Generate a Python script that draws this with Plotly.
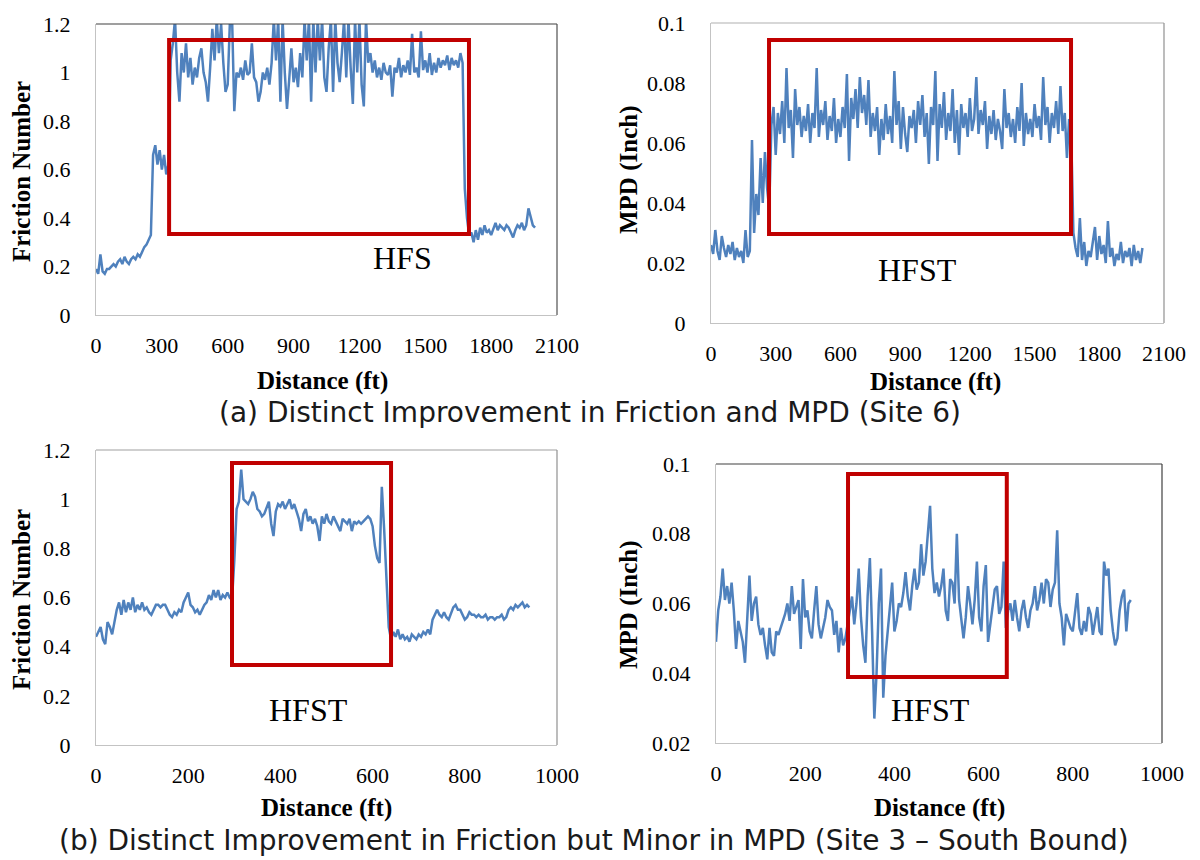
import plotly.graph_objects as go

# ---------------- data ----------------
# (a) Site 6 - friction number, every 10 ft from 0 to 2000 ft
friction_site6 = [
    0.19, 0.17, 0.25, 0.18, 0.17, 0.19, 0.19, 0.20, 0.21, 0.20,
    0.22, 0.23, 0.21, 0.24, 0.22, 0.21, 0.23, 0.24, 0.23, 0.25,
    0.24, 0.26, 0.28, 0.29, 0.31, 0.33, 0.66, 0.70, 0.62, 0.68,
    0.60, 0.66, 0.58, 0.62, 1.05, 1.12, 1.22, 1.00, 0.88, 1.08,
    1.00, 1.12, 0.98, 1.06, 0.95, 1.02, 0.98, 1.06, 1.10, 1.00,
    0.96, 0.88, 1.02, 1.18, 1.05, 1.22, 1.08, 1.20, 1.04, 0.92,
    0.95, 1.21, 1.22, 0.84, 1.00, 0.98, 1.02, 0.97, 1.05, 0.99,
    1.00, 1.12, 0.98, 0.96, 0.88, 0.92, 1.00, 0.97, 1.02, 0.95,
    1.04, 1.22, 1.05, 1.22, 0.88, 1.22, 1.00, 0.85, 0.97, 1.10,
    0.96, 1.02, 0.94, 1.08, 0.98, 1.22, 1.05, 1.22, 0.88, 1.22,
    1.00, 1.22, 1.05, 1.22, 0.98, 0.92, 1.10, 1.22, 0.92, 1.22,
    1.04, 0.96, 1.08, 1.22, 0.98, 1.22, 1.02, 0.87, 1.22, 1.00,
    1.22, 0.95, 0.86, 1.22, 1.04, 1.08, 1.00, 1.05, 0.98, 1.02,
    0.97, 1.04, 1.00, 0.99, 1.03, 0.90, 1.02, 1.00, 1.06, 0.98,
    1.03, 1.00, 1.05, 0.99, 1.16, 1.00, 1.02, 0.98, 1.17, 1.01,
    1.05, 1.00, 1.08, 0.99, 1.04, 1.00, 1.06, 1.02, 1.05, 1.03,
    1.07, 1.01, 1.06, 1.03, 1.05, 1.02, 1.08, 1.04, 0.52, 0.40,
    0.33, 0.34, 0.30, 0.35, 0.31, 0.36, 0.33, 0.37, 0.34, 0.35,
    0.33, 0.36, 0.38, 0.35, 0.37, 0.36, 0.35, 0.37, 0.36, 0.34,
    0.32, 0.35, 0.37, 0.36, 0.38, 0.35, 0.37, 0.44, 0.40, 0.37,
    0.36,
]
distance_site6_friction = [10 * i for i in range(len(friction_site6))]

# (a) Site 6 - MPD (inch), every 10 ft from 0 to 2000 ft
mpd_site6 = [
    0.026, 0.023, 0.031, 0.024, 0.021, 0.029, 0.025, 0.022, 0.026, 0.023,
    0.027, 0.021, 0.025, 0.022, 0.024, 0.020, 0.031, 0.022, 0.024, 0.061,
    0.030, 0.043, 0.036, 0.055, 0.040, 0.057, 0.045, 0.038, 0.066, 0.072,
    0.056, 0.070, 0.063, 0.074, 0.060, 0.085, 0.065, 0.071, 0.055, 0.078,
    0.066, 0.072, 0.062, 0.069, 0.064, 0.073, 0.060, 0.070, 0.065, 0.085,
    0.062, 0.071, 0.066, 0.074, 0.061, 0.069, 0.064, 0.075, 0.060, 0.068,
    0.062, 0.072, 0.065, 0.083, 0.054, 0.075, 0.068, 0.078, 0.065, 0.082,
    0.070, 0.076, 0.066, 0.081, 0.062, 0.070, 0.064, 0.072, 0.056, 0.068,
    0.061, 0.073, 0.063, 0.069, 0.060, 0.084, 0.066, 0.074, 0.058, 0.072,
    0.063, 0.057, 0.069, 0.065, 0.071, 0.060, 0.074, 0.066, 0.076, 0.062,
    0.070, 0.053, 0.072, 0.066, 0.084, 0.054, 0.073, 0.065, 0.077, 0.061,
    0.070, 0.064, 0.078, 0.060, 0.071, 0.056, 0.073, 0.065, 0.070, 0.062,
    0.075, 0.064, 0.068, 0.082, 0.063, 0.071, 0.066, 0.074, 0.058, 0.069,
    0.063, 0.071, 0.061, 0.068, 0.064, 0.058, 0.078, 0.065, 0.070, 0.062,
    0.068, 0.060, 0.072, 0.064, 0.080, 0.059, 0.070, 0.063, 0.068, 0.062,
    0.073, 0.065, 0.069, 0.061, 0.082, 0.066, 0.072, 0.060, 0.070, 0.065,
    0.074, 0.063, 0.079, 0.064, 0.070, 0.055, 0.068, 0.062, 0.030, 0.025,
    0.022, 0.035, 0.021, 0.027, 0.019, 0.024, 0.022, 0.028, 0.032, 0.021,
    0.029, 0.023, 0.026, 0.020, 0.034, 0.022, 0.025, 0.019, 0.023, 0.021,
    0.027, 0.020, 0.024, 0.022, 0.025, 0.019, 0.026, 0.021, 0.024, 0.020,
    0.025,
]
distance_site6_mpd = [10 * i for i in range(len(mpd_site6))]

# (b) Site 3 South Bound - friction number, every 5 ft from 0 to 940 ft
friction_site3 = [
    0.44, 0.46, 0.48, 0.43, 0.41, 0.50, 0.48, 0.45, 0.50, 0.55,
    0.58, 0.53, 0.59, 0.54, 0.58, 0.55, 0.60, 0.54, 0.57, 0.55,
    0.58, 0.55, 0.56, 0.54, 0.53, 0.55, 0.57, 0.57, 0.56, 0.57,
    0.57, 0.55, 0.53, 0.52, 0.54, 0.53, 0.55, 0.54, 0.58, 0.60,
    0.62, 0.57, 0.56, 0.54, 0.55, 0.53, 0.55, 0.57, 0.58, 0.61,
    0.59, 0.63, 0.60, 0.63, 0.59, 0.61, 0.60, 0.62, 0.60, 0.59,
    0.75, 0.96, 0.99, 1.12, 1.00, 0.99, 0.98, 1.00, 1.03, 1.01,
    0.96, 0.95, 0.93, 0.94, 0.97, 0.99, 0.90, 0.85, 0.95, 0.98,
    0.97, 0.99, 0.96, 0.98, 1.00, 0.96, 0.98, 0.95, 0.92, 0.87,
    0.94, 0.96, 0.91, 0.93, 0.90, 0.92, 0.89, 0.83, 0.93, 0.90,
    0.94, 0.91, 0.90, 0.93, 0.91, 0.89, 0.87, 0.92, 0.91, 0.90,
    0.92, 0.87, 0.91, 0.90, 0.91, 0.90, 0.91, 0.92, 0.93, 0.92,
    0.89, 0.81, 0.76, 0.74, 1.05, 0.88, 0.68, 0.48, 0.43, 0.46,
    0.44, 0.47, 0.43, 0.45, 0.43, 0.44, 0.42, 0.45, 0.44, 0.43,
    0.45, 0.44, 0.46, 0.45, 0.47, 0.45, 0.51, 0.53, 0.55, 0.53,
    0.52, 0.54, 0.52, 0.51, 0.54, 0.56, 0.57, 0.55, 0.55, 0.53,
    0.51, 0.52, 0.54, 0.53, 0.53, 0.52, 0.53, 0.52, 0.52, 0.53,
    0.51, 0.52, 0.52, 0.51, 0.52, 0.52, 0.53, 0.51, 0.52, 0.55,
    0.56, 0.55, 0.57, 0.56, 0.57, 0.58, 0.56, 0.57, 0.56,
]
distance_site3_friction = [5 * i for i in range(len(friction_site3))]

# (b) Site 3 South Bound - MPD (inch), every 5 ft from 0 to 930 ft
mpd_site3 = [
    0.049, 0.058, 0.062, 0.070, 0.061, 0.065, 0.060, 0.066, 0.058, 0.047,
    0.055, 0.052, 0.049, 0.043, 0.056, 0.068, 0.055, 0.060, 0.062, 0.054,
    0.051, 0.053, 0.048, 0.044, 0.053, 0.046, 0.045, 0.052, 0.051, 0.053,
    0.055, 0.057, 0.060, 0.055, 0.065, 0.057, 0.059, 0.061, 0.047, 0.067,
    0.056, 0.058, 0.052, 0.050, 0.058, 0.065, 0.054, 0.050, 0.053, 0.056,
    0.061, 0.059, 0.058, 0.051, 0.055, 0.046, 0.053, 0.048, 0.050, 0.054,
    0.058, 0.062, 0.054, 0.060, 0.070, 0.056, 0.048, 0.043, 0.062, 0.073,
    0.052, 0.027, 0.040, 0.060, 0.070, 0.033, 0.045, 0.052, 0.058, 0.066,
    0.052, 0.055, 0.060, 0.059, 0.063, 0.069, 0.062, 0.058, 0.065, 0.070,
    0.064, 0.066, 0.077, 0.068, 0.072, 0.081, 0.088, 0.070, 0.063, 0.066,
    0.062, 0.065, 0.070, 0.058, 0.055, 0.067, 0.066, 0.060, 0.080, 0.061,
    0.055, 0.050, 0.056, 0.065, 0.060, 0.054, 0.061, 0.072, 0.056, 0.052,
    0.065, 0.071, 0.049, 0.055, 0.059, 0.064, 0.065, 0.057, 0.059, 0.072,
    0.053, 0.058, 0.060, 0.055, 0.061, 0.056, 0.052, 0.058, 0.061, 0.056,
    0.053, 0.058, 0.060, 0.065, 0.058, 0.061, 0.066, 0.060, 0.067, 0.066,
    0.059, 0.064, 0.066, 0.081, 0.060, 0.056, 0.048, 0.057, 0.055, 0.053,
    0.052, 0.058, 0.063, 0.053, 0.051, 0.055, 0.052, 0.059, 0.057, 0.051,
    0.055, 0.059, 0.052, 0.051, 0.072, 0.068, 0.070, 0.058, 0.052, 0.048,
    0.050, 0.058, 0.062, 0.064, 0.052, 0.060, 0.061,
]
distance_site3_mpd = [5 * i for i in range(len(mpd_site3))]

x_ticks_site6 = [0, 300, 600, 900, 1200, 1500, 1800, 2100]
x_ticks_site3 = [0, 200, 400, 600, 800, 1000]
y_ticks_friction = [0, 0.2, 0.4, 0.6, 0.8, 1.0, 1.2]
y_ticks_mpd_site6 = [0, 0.02, 0.04, 0.06, 0.08, 0.1]
y_ticks_mpd_site3 = [0.02, 0.04, 0.06, 0.08, 0.1]

x_title = "Distance (ft)"
y_title_friction = "Friction Number"
y_title_mpd = "MPD (Inch)"
caption_a = "(a) Distinct Improvement in Friction and MPD (Site 6)"
caption_b = "(b) Distinct Improvement in Friction but Minor in MPD (Site 3 \u2013 South Bound)"

# ---------------- figure ----------------
W, H = 1200, 860
LINE = "#4F81BD"
RED = "#C00000"
SERIF = "Liberation Serif, Times New Roman, serif"
SANS = "DejaVu Sans, Arial, sans-serif"

fig = go.Figure()

panels = [
    (distance_site6_friction, friction_site6, "x", "y"),
    (distance_site6_mpd, mpd_site6, "x2", "y2"),
    (distance_site3_friction, friction_site3, "x3", "y3"),
    (distance_site3_mpd, mpd_site3, "x4", "y4"),
]
for xs, ys, xa, ya in panels:
    fig.add_trace(go.Scatter(x=xs, y=ys, mode="lines", xaxis=xa, yaxis=ya,
                             line=dict(color=LINE, width=2.5), showlegend=False,
                             cliponaxis=True))

def px_x(px):
    return px / W

def px_y(py):
    return 1 - py / H

tick_font = dict(family=SERIF, size=22, color="black")

def xaxis(domain, rng, ticks, anchor):
    return dict(domain=domain, range=rng, tickvals=ticks, anchor=anchor,
                showgrid=False, zeroline=False, showline=True, linecolor="#c3c3c3",
                linewidth=1, ticks="", tickfont=tick_font, ticklabelstandoff=11,
                automargin=False, fixedrange=True)

def yaxis(domain, rng, ticks, anchor):
    return dict(domain=domain, range=rng, tickvals=ticks, anchor=anchor,
                showgrid=False, zeroline=False, showline=True, linecolor="#c3c3c3",
                linewidth=1, ticks="", tickfont=tick_font, ticklabelstandoff=20,
                automargin=False, fixedrange=True)

# pixel boxes of the four plot areas: (left, right, top, bottom)
boxes = [(96, 557, 24, 315), (711, 1164, 23, 323), (96, 557, 450, 745), (716, 1162, 464, 743)]
dom = [([px_x(l), px_x(r)], [px_y(b), px_y(t)]) for l, r, t, b in boxes]

fig.update_layout(
    width=W, height=H, margin=dict(l=0, r=0, t=0, b=0, autoexpand=False),
    paper_bgcolor="white", plot_bgcolor="white", showlegend=False,
    xaxis=xaxis(dom[0][0], [0, 2100], x_ticks_site6, "y"),
    yaxis=yaxis(dom[0][1], [0, 1.2], y_ticks_friction, "x"),
    xaxis2=xaxis(dom[1][0], [0, 2100], x_ticks_site6, "y2"),
    yaxis2=yaxis(dom[1][1], [0, 0.1], y_ticks_mpd_site6, "x2"),
    xaxis3=xaxis(dom[2][0], [0, 1000], x_ticks_site3, "y3"),
    yaxis3=yaxis(dom[2][1], [0, 1.2], y_ticks_friction, "x3"),
    xaxis4=xaxis(dom[3][0], [0, 1000], x_ticks_site3, "y4"),
    yaxis4=yaxis(dom[3][1], [0.02, 0.1], y_ticks_mpd_site3, "x4"),
)

shapes = []
frame_colors = [("#404040", "#505050"), ("#b0b0b0", "#909090"),
                ("#a0a0a0", "#909090"), ("#404040", "#404040")]
axis_ids = [("x", "y"), ("x2", "y2"), ("x3", "y3"), ("x4", "y4")]
for (xa, ya), (top_c, right_c) in zip(axis_ids, frame_colors):
    shapes.append(dict(type="line", xref=f"{xa} domain", yref=f"{ya} domain",
                       x0=0, x1=1, y0=1, y1=1, line=dict(color=top_c, width=1.2)))
    shapes.append(dict(type="line", xref=f"{xa} domain", yref=f"{ya} domain",
                       x0=1, x1=1, y0=0, y1=1, line=dict(color=right_c, width=1.2)))

# red highlight boxes (HFST sections), in data units
hfst_boxes = [
    ("x", "y", 333, 1699, 0.334, 1.134),
    ("x2", "y2", 269, 1669, 0.0297, 0.0943),
    ("x3", "y3", 295, 640, 0.325, 1.147),
    ("x4", "y4", 296, 652, 0.0389, 0.0971),
]
for xa, ya, x0, x1, y0, y1 in hfst_boxes:
    shapes.append(dict(type="rect", xref=xa, yref=ya, x0=x0, x1=x1, y0=y0, y1=y1,
                       line=dict(color=RED, width=4), fillcolor="rgba(0,0,0,0)"))
fig.update_layout(shapes=shapes)

ann = []
labels = [("x", "y", 1394, 0.235, "HFS"), ("x2", "y2", 955, 0.0177, "HFST"),
          ("x3", "y3", 460, 0.142, "HFST"), ("x4", "y4", 482, 0.0295, "HFST")]
for xa, ya, xv, yv, t in labels:
    ann.append(dict(xref=xa, yref=ya, x=xv, y=yv, text=t, showarrow=False,
                    font=dict(family=SERIF, size=32, color="black"),
                    xanchor="center", yanchor="middle"))

title_font = dict(family=SERIF, size=25, color="black")
for cx, cy in [(322, 381), (935, 382), (326, 808), (939, 808)]:
    ann.append(dict(xref="paper", yref="paper", x=px_x(cx), y=px_y(cy),
                    text=f"<b>{x_title}</b>", showarrow=False, font=title_font,
                    xanchor="center", yanchor="middle"))
for cx, cy, t in [(22, 172, y_title_friction), (629, 170, y_title_mpd),
                  (21, 600, y_title_friction), (629, 605, y_title_mpd)]:
    ann.append(dict(xref="paper", yref="paper", x=px_x(cx), y=px_y(cy),
                    text=f"<b>{t}</b>", showarrow=False, font=title_font,
                    textangle=-90, xanchor="center", yanchor="middle"))

cap_font = dict(family=SANS, size=28, color="#1a1a1a")
ann.append(dict(xref="paper", yref="paper", x=px_x(590), y=px_y(412), text=caption_a,
                showarrow=False, font=cap_font, xanchor="center", yanchor="middle"))
ann.append(dict(xref="paper", yref="paper", x=px_x(594), y=px_y(840), text=caption_b,
                showarrow=False, font=cap_font, xanchor="center", yanchor="middle"))
fig.update_layout(annotations=ann)

fig.write_html("out.html", config={"displayModeBar": False})
